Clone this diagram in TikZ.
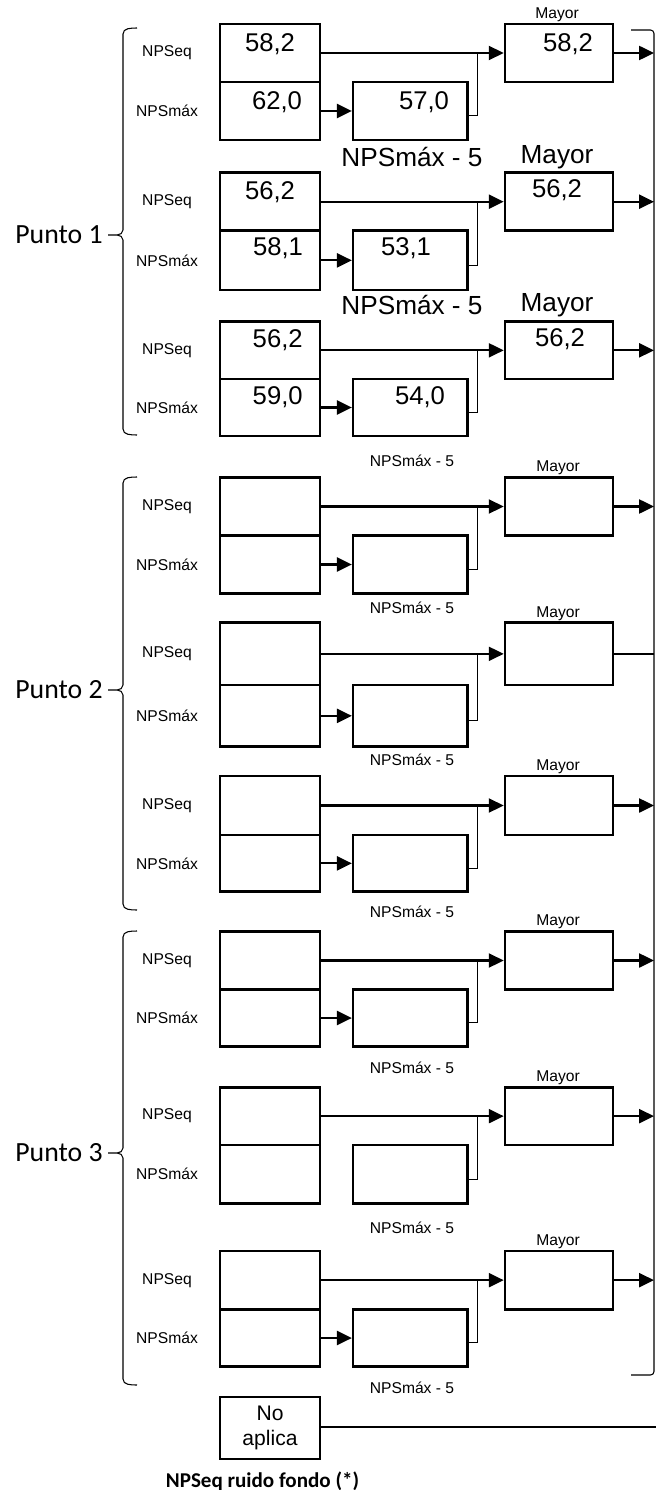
\documentclass[tikz,border=0pt]{standalone}
\usepackage{fontspec}
\setmainfont{Liberation Sans}
\newfontfamily\calibri{Carlito}
\usetikzlibrary{arrows.meta,calc}
% one row: name, top, divider, bottom, style of lower arrow, style of outgoing arrow
\def\fila#1#2#3#4#5#6{%
	\pgfmathsetmacro\ya{(#2+#3)/2}\pgfmathsetmacro\yb{(#3+#4)/2}%
	\pgfmathsetmacro\ha{(#3-#2)*0.02}\pgfmathsetmacro\hb{(#4-#3)*0.02}%
	\node[caja, minimum width=2cm, minimum height=\ha cm] (eq#1) at (270,\ya) {};
	\node[caja, minimum width=2cm, minimum height=\hb cm] (mx#1) at (270,\yb) {};
	\node[caja, minimum width=2.29cm, minimum height=\hb cm] (resta#1) at (410.4,\yb) {};
	\node[caja, minimum width=2.16cm, minimum height=\ha cm] (mayor#1) at (559,\ya) {};
	\node[etiq] (teq#1) at (167,\ya) {NPSeq};
	\node[etiq] (tmx#1) at (167,\yb) {NPSmáx};
	\coordinate (j#1) at (477.7,\ya);
	\coordinate (s#1) at (654,\ya);
	\draw[flecha] (eq#1) -- (mayor#1);
	\draw[#5] (mx#1) -- (resta#1);
	\draw[conector] ([yshift=-2.8pt]resta#1.east) -| (j#1);
	\draw[#6] (mayor#1) -- (s#1);
}
\def\llave(#1,#2,#3){\draw[linea] (137,#1) to[out=180,in=90] (123,#1+6) -- (123,#2-5) to[out=-90,in=0] (117,#2) -- (108,#2) (117,#2) to[out=0,in=90] (123,#2+5) -- (123,#3-6) to[out=-90,in=180] (137,#3);}

\begin{document}
\begin{tikzpicture}[x=0.02cm, y=-0.02cm,
	caja/.style={draw, line width=1.5pt, inner sep=0pt},
	etiq/.style={font=\fontsize{8.9}{10}\selectfont, inner sep=0pt},
	valor/.style={font=\fontsize{14.6}{16}\selectfont, inner sep=0pt},
	grande/.style={font=\fontsize{14.9}{17}\selectfont, inner sep=0pt},
	tramo/.style={line width=1.2pt},
	flecha/.style={tramo, -{Triangle[length=8.5pt,width=8pt]}},
	conector/.style={line width=0.6pt},
	linea/.style={line width=0.6pt}]
	%%%%% START %%%%%
	\useasboundingbox (0,0) rectangle (656,1490);

	% Punto 1
	\fila{1}{24}{82}{140}{flecha}{flecha}
	\fila{2}{172.7}{230.7}{290}{flecha}{flecha}
	\fila{3}{321.7}{379}{436}{flecha}{flecha}
	\llave(28,235,435)
	\node[font=\calibri\fontsize{15.8}{18}\selectfont, anchor=east, inner sep=0pt] (p1) at (103,235) {Punto 1};

	\node[valor] (v1a) at (270,44) {58,2};
	\node[valor] (v1b) at (277,102) {62,0};
	\node[valor] (v1c) at (424,102) {57,0};
	\node[valor] (v1d) at (568,44) {58,2};
	\node[valor] (v2a) at (270,191.7) {56,2};
	\node[valor] (v2b) at (278,248.3) {58,1};
	\node[valor] (v2c) at (406,248) {53,1};
	\node[valor] (v2d) at (557,190) {56,2};
	\node[valor] (v3a) at (277.7,340) {56,2};
	\node[valor] (v3b) at (277.7,396.7) {59,0};
	\node[valor] (v3c) at (420,397) {54,0};
	\node[valor] (v3d) at (560,339) {56,2};

	\node[etiq] (m1) at (557,15) {Mayor};
	\node[grande] (n1) at (412,157) {NPSmáx - 5};
	\node[grande] (m2) at (557,157) {Mayor};
	\node[grande] (n2) at (412,305) {NPSmáx - 5};
	\node[grande] (m3) at (557,305) {Mayor};
	\node[etiq] (n3) at (412,461) {NPSmáx - 5};

	% Punto 2
	\fila{4}{477.3}{535.7}{593.3}{flecha}{flecha}
	\fila{5}{622.7}{685}{746.7}{flecha}{tramo}
	\fila{6}{776}{835}{891.7}{flecha}{flecha}
	\llave(477,690,910)
	\node[font=\calibri\fontsize{15.8}{18}\selectfont, anchor=east, inner sep=0pt] (p2) at (103,690) {Punto 2};
	\node[etiq] (m4) at (558,468) {Mayor};
	\node[etiq] (n4) at (412,608) {NPSmáx - 5};
	\node[etiq] (m5) at (558,614) {Mayor};
	\node[etiq] (n5) at (412,760) {NPSmáx - 5};
	\node[etiq] (m6) at (558,767) {Mayor};
	\node[etiq] (n6) at (412,912) {NPSmáx - 5};

	% Punto 3
	\fila{7}{931.7}{989.3}{1046.7}{flecha}{flecha}
	\fila{8}{1087.3}{1145}{1203.3}{draw=none}{flecha}
	\fila{9}{1251}{1309.3}{1366.7}{flecha}{flecha}
	\llave(931,1153,1385)
	\node[font=\calibri\fontsize{15.8}{18}\selectfont, anchor=east, inner sep=0pt] (p3) at (103,1153) {Punto 3};
	\node[etiq] (m7) at (558,922) {Mayor};
	\node[etiq] (n7) at (412,1068) {NPSmáx - 5};
	\node[etiq] (m8) at (558,1078) {Mayor};
	\node[etiq] (n8) at (412,1228) {NPSmáx - 5};
	\node[etiq] (m9) at (558,1242) {Mayor};
	\node[etiq] (n9) at (412,1388) {NPSmáx - 5};

	% right side
	\draw[linea, rounded corners=2pt] (631,30) -- (654,30) -- (654,1375) -- (631,1375);

	% ruido de fondo
	\node[caja, minimum width=2cm, minimum height=1.24cm, align=center, font=\fontsize{12}{14.2}\selectfont] (noap) at (270,1428) {No\\aplica};
	\coordinate (fin) at (656,1427.3);
	\draw[tramo] (noap.east |- fin) -- (fin);
	\node[font=\calibri\bfseries\fontsize{12}{14}\selectfont] (ruido) at (262.5,1481) {NPSeq ruido fondo (*)};
	%%%%% END %%%%%
\end{tikzpicture}
\end{document}
